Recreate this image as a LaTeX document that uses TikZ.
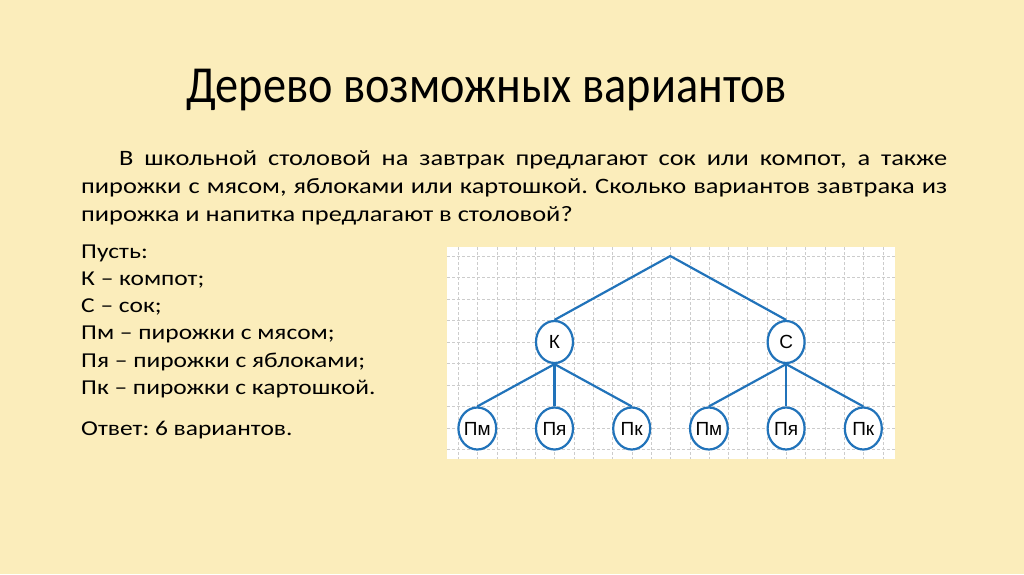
\documentclass[tikz,border=0pt]{standalone}
\usepackage{fontspec}
\setmainfont{Carlito}[FakeStretch=1.2]
\newfontfamily\headfont{Carlito}[FakeStretch=0.89]
\newfontfamily\treefont{Liberation Sans}
\usetikzlibrary{shapes,positioning}
\definecolor{slide bg}{RGB}{251,237,187}
\definecolor{tree blue}{RGB}{33,115,186}
\tikzset{
    basic/.style  = {inner sep=0pt, anchor=base west, font=\fontsize{21.2}{26}\selectfont},
    task/.style   = {basic, font=\fontsize{22}{26}\selectfont},
    title/.style  = {basic, font=\headfont\fontsize{52}{56}\selectfont},
    tree entry/.style = {ellipse, draw=tree blue, line width=2.2pt, fill=white, inner sep=0pt,
        minimum width=37pt, minimum height=42pt, font=\treefont\fontsize{19}{19}\selectfont},
    tree edge/.style  = {draw=tree blue, line width=2.2pt},
    grid line/.style  = {gray!40, densely dashed, line width=0.7pt}
}
\frenchspacing
\begin{document}
\begin{tikzpicture}[x=1pt, y=-1pt]
	\fill[slide bg] (0,0) rectangle (1024,574);
	\node[title] (head) at (186,102) {Дерево возможных вариантов};
	\node[task] (task1) at (119,165) {\makebox[828pt][s]{В школьной столовой на завтрак предлагают сок или компот, а также}};
	\node[task] (task2) at (81,193) {\makebox[866pt][s]{пирожки с мясом, яблоками или картошкой. Сколько вариантов завтрака из}};
	\node[task] (task3) at (81,221) {пирожка и напитка предлагают в столовой?};
	\node[basic] (let) at (81,258) {Пусть:};
	\node[basic] (def1) at (81,285) {К – компот;};
	\node[basic] (def2) at (81,312) {С – сок;};
	\node[basic] (def3) at (81,339) {Пм – пирожки с мясом;};
	\node[basic] (def4) at (81,367) {Пя – пирожки с яблоками;};
	\node[basic] (def5) at (81,394) {Пк – пирожки с картошкой.};
	\node[basic] (answer) at (81,435) {Ответ: 6 вариантов.};
	\fill[white] (447,247) rectangle (895,459);
	\foreach \i in {0,...,22}
		\draw[grid line] ({458.3+19.3*\i},247) -- ({458.3+19.3*\i},459);
	\foreach \j in {0,...,9}
		\draw[grid line] (447,{256+21.5*\j}) -- (895,{256+21.5*\j});
	\coordinate (root) at (670.3,256);
	\begin{scope}[every node/.style={tree entry}]
		\node (k) at (554.5,342) {К};
		\node (c) at (786.1,342) {С};
		\node (km) at (477.3,428.5) {Пм};
		\node (kja) at (554.5,428.5) {Пя};
		\node (kk) at (631.7,428.5) {Пк};
		\node (cm) at (708.9,428.5) {Пм};
		\node (cja) at (786.1,428.5) {Пя};
		\node (ck) at (863.3,428.5) {Пк};
	\end{scope}
	\draw[tree edge] (k.north) -- (root) -- (c.north);
	\foreach \p/\q in {k/km,k/kja,k/kk,c/cm,c/cja,c/ck}
		\draw[tree edge] (\p.south) -- (\q.north);
\end{tikzpicture}
\end{document}
